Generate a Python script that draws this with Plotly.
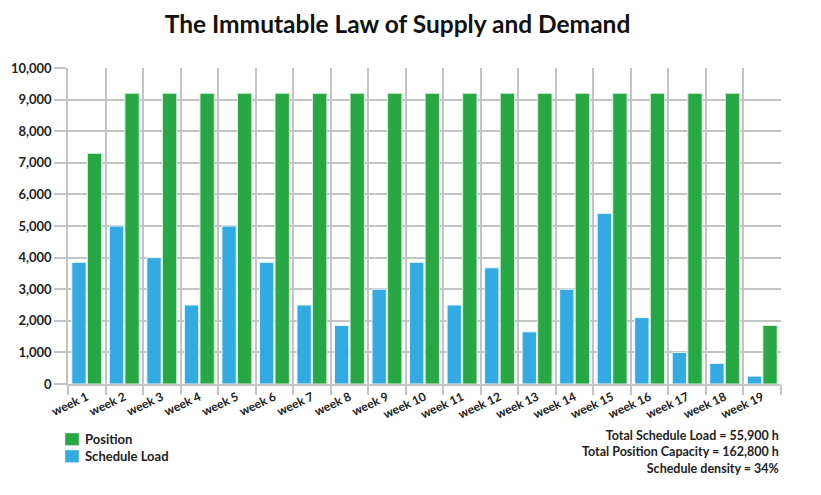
import plotly.graph_objects as go

weeks = [f"week {i}" for i in range(1, 20)]
schedule_load = [3850, 5000, 4000, 2500, 5000, 3850, 2500, 1850, 3000, 3850,
                 2500, 3675, 1650, 3000, 5400, 2100, 1000, 650, 250]
position = [7300, 9200, 9200, 9200, 9200, 9200, 9200, 9200, 9200, 9200,
            9200, 9200, 9200, 9200, 9200, 9200, 9200, 9200, 1850]
y_ticks = list(range(0, 10001, 1000))
summary_lines = ["Total Schedule Load = 55,900 h",
                 "Total Position Capacity = 162,800 h",
                 "Schedule density = 34%"]

FONT = "Lato, 'Open Sans', sans-serif"
GRID = "#c4c4c6"
GREEN = "#28a745"
BLUE = "#33aae2"
OFF = 8  # page body margin
W, H = 821 - OFF, 495 - OFF
ML, MR, MT, MB = 68 - OFF, 40, 68 - OFF, 111
PW, PH = W - ML - MR, H - MT - MB


def px(vx):
    return (vx - OFF - ML) / PW


def py(vy):
    return (H - MB - (vy - OFF)) / PH


fig = go.Figure()
fig.add_trace(go.Bar(x=weeks, y=schedule_load, name="Schedule Load", showlegend=False,
                     marker=dict(color=BLUE, line=dict(color="#e8f6fc", width=1))))
fig.add_trace(go.Bar(x=weeks, y=position, name="Position", showlegend=False,
                     marker=dict(color=GREEN, line=dict(color="#d8f2dc", width=1))))

fig.update_layout(
    width=W, height=H,
    margin=dict(l=ML, r=MR, t=MT, b=MB, autoexpand=False),
    paper_bgcolor="white", plot_bgcolor="white",
    barmode="group", bargap=0.17, bargroupgap=0.08,
    font=dict(family=FONT, color="#222222"),
    title=dict(text="The Immutable Law of Supply and Demand", x=(397.5 - OFF) / W,
               xanchor="center", y=1 - (24 - OFF) / H, yanchor="middle",
               font=dict(family=FONT, size=24.5, color="#111111", weight="bold")),
    showlegend=False,
)
fig.update_xaxes(type="category", tickson="boundaries", showgrid=True,
                 gridcolor=GRID, gridwidth=1.5, ticks="outside", ticklen=9,
                 tickcolor=GRID, tickwidth=1.5, showline=True, linecolor=GRID,
                 linewidth=1.5, tickangle=-25, automargin=False,
                 tickfont=dict(size=12, weight="bold", color="#222222"))
fig.update_yaxes(range=[0, 10000], tickvals=y_ticks, tickformat=",",
                 showgrid=True, gridcolor=GRID, gridwidth=1.5,
                 ticks="outside", ticklen=12, tickcolor=GRID, tickwidth=1.5,
                 showline=True, linecolor=GRID, linewidth=1.5, zeroline=False,
                 automargin=False,
                 tickfont=dict(size=13, weight="bold", color="#222222"))

# legend drawn manually (Position first, then Schedule Load)
legend_items = [("Position", GREEN, 433), ("Schedule Load", BLUE, 450)]
for label, color, top in legend_items:
    fig.add_shape(type="rect", xref="paper", yref="paper",
                  x0=px(65), x1=px(79), y0=py(top), y1=py(top + 12.5),
                  fillcolor=color, line=dict(color="#dddddd", width=0.5))
    fig.add_annotation(text=label, xref="paper", yref="paper",
                       x=px(83), y=py(top + 6), xanchor="left", yanchor="middle",
                       showarrow=False,
                       font=dict(size=13, weight="bold", color="#222222"))

fig.add_annotation(text="<br>".join(summary_lines), xref="paper", yref="paper",
                   x=1.0, y=py(426), xanchor="right", yanchor="top",
                   align="right", showarrow=False,
                   font=dict(size=12.5, weight="bold", color="#222222"))

fig.write_html("out.html")
